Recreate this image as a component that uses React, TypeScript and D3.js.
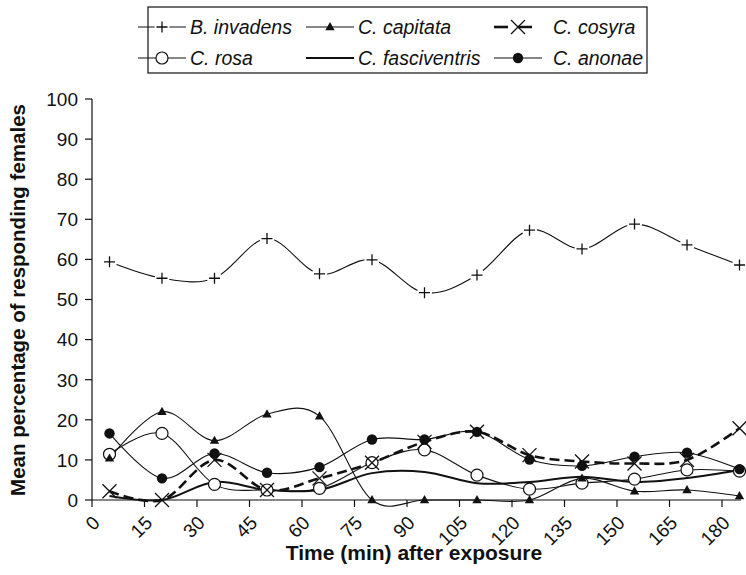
import { useEffect, useRef } from "react";
import * as d3 from "d3";

// sampling times (min after exposure)
const times = [5, 20, 35, 50, 65, 80, 95, 110, 125, 140, 155, 170, 185];
const xTicks = [0, 15, 30, 45, 60, 75, 90, 105, 120, 135, 150, 165, 180];
const yTicks = [0, 10, 20, 30, 40, 50, 60, 70, 80, 90, 100];

const invadens = [59.4, 55.3, 55.3, 65.2, 56.4, 59.9, 51.7, 56.1, 67.3, 62.6, 68.8, 63.6, 58.6];
const capitata = [10.4, 22.0, 14.8, 21.4, 20.9, 0, 0, 0, 0, 5.4, 2.2, 2.5, 1.0];
const cosyra = [2.2, 0, 10.0, 2.5, 5.4, 9.3, 14.5, 17.0, 11.2, 9.6, 9.1, 10.0, 17.9];
const rosa = [11.4, 16.6, 3.9, 2.5, 2.9, 9.3, 12.5, 6.2, 2.7, 4.2, 5.2, 7.5, 7.2];
const fasciventris = [1.0, 0, 4.5, 2.5, 2.5, 6.7, 7.0, 4.2, 4.5, 5.8, 4.5, 5.5, 7.5];
const anonae = [16.6, 5.4, 11.6, 6.8, 8.2, 15.1, 15.1, 17.0, 10.1, 8.5, 10.8, 11.8, 7.7];

const series = [
  { name: "B. invadens", values: invadens, marker: "plus", width: 1.1, dash: null },
  { name: "C. capitata", values: capitata, marker: "triangle", width: 1.1, dash: null },
  { name: "C. cosyra", values: cosyra, marker: "cross", width: 2.6, dash: "10,5" },
  { name: "C. rosa", values: rosa, marker: "circle", width: 1.1, dash: null },
  { name: "C. fasciventris", values: fasciventris, marker: "none", width: 2, dash: null },
  { name: "C. anonae", values: anonae, marker: "dot", width: 1.1, dash: null },
];

const FONT = "'Liberation Sans', Arial, Helvetica, sans-serif";

const drawMarker = (g, type, cx, cy, halo) => {
  if (type === "plus") {
    if (halo) g.append("circle").attr("cx", cx).attr("cy", cy).attr("r", 7.5).attr("fill", "#fff");
    g.append("path")
      .attr("d", `M${cx - 5.5},${cy}H${cx + 5.5}M${cx},${cy - 5.5}V${cy + 5.5}`)
      .attr("stroke", "#111").attr("stroke-width", 1.3).attr("fill", "none");
  } else if (type === "triangle") {
    g.append("path")
      .attr("d", d3.symbol(d3.symbolTriangle, 38)())
      .attr("transform", `translate(${cx},${cy + 0.5})`)
      .attr("fill", "#111");
  } else if (type === "cross") {
    g.append("path")
      .attr("d", `M${cx - 7},${cy - 7}L${cx + 7},${cy + 7}M${cx - 7},${cy + 7}L${cx + 7},${cy - 7}`)
      .attr("stroke", "#111").attr("stroke-width", 1.3).attr("fill", "none");
  } else if (type === "circle") {
    g.append("circle").attr("cx", cx).attr("cy", cy).attr("r", 6)
      .attr("fill", "#fff").attr("stroke", "#111").attr("stroke-width", 1.2);
  } else if (type === "dot") {
    g.append("circle").attr("cx", cx).attr("cy", cy).attr("r", 5.2).attr("fill", "#111");
  }
};

const App = () => {
  const ref = useRef(null);

  useEffect(() => {
    const svg = d3.select(ref.current);
    svg.selectAll("*").remove();

    const x = d3.scaleLinear().domain([0, 185]).range([92, 739.5]);
    const y = d3.scaleLinear().domain([0, 100]).range([500, 99]);

    // axes
    svg.append("line").attr("x1", 92).attr("x2", 92).attr("y1", y(100)).attr("y2", y(0))
      .attr("stroke", "#111").attr("stroke-width", 1.2);
    svg.append("line").attr("x1", 92).attr("x2", 741).attr("y1", y(0)).attr("y2", y(0))
      .attr("stroke", "#111").attr("stroke-width", 1.2);

    const yAx = svg.append("g");
    yTicks.forEach((t) => {
      yAx.append("line").attr("x1", 85).attr("x2", 92).attr("y1", y(t)).attr("y2", y(t))
        .attr("stroke", "#111").attr("stroke-width", 1.2);
      yAx.append("text").attr("x", 78).attr("y", y(t)).attr("dy", "0.36em")
        .attr("text-anchor", "end").style("font-family", FONT).style("font-size", "19px")
        .attr("fill", "#111").text(t);
    });

    const xAx = svg.append("g");
    xTicks.forEach((t) => {
      xAx.append("line").attr("x1", x(t)).attr("x2", x(t)).attr("y1", y(0)).attr("y2", y(0) + 7)
        .attr("stroke", "#111").attr("stroke-width", 1.2);
      xAx.append("text")
        .attr("transform", `translate(${x(t) + 9},${524}) rotate(-45)`)
        .attr("text-anchor", "end").style("font-family", FONT).style("font-size", "19px")
        .attr("fill", "#111").text(t);
    });

    // titles
    svg.append("text").attr("x", 414).attr("y", 560).attr("text-anchor", "middle")
      .style("font-family", FONT).style("font-size", "21px").style("font-weight", "bold")
      .attr("fill", "#111").text("Time (min) after exposure");
    svg.append("text").attr("transform", `translate(25,${300}) rotate(-90)`)
      .attr("text-anchor", "middle")
      .style("font-family", FONT).style("font-size", "20.5px").style("font-weight", "bold")
      .attr("fill", "#111").text("Mean percentage of responding females");

    // lines
    const line = d3.line()
      .x((d, i) => x(times[i]))
      .y((d) => y(d))
      .curve(d3.curveCardinal.tension(0));

    series.forEach((s) => {
      svg.append("path").datum(s.values).attr("d", line)
        .attr("fill", "none").attr("stroke", "#111")
        .attr("stroke-width", s.width)
        .attr("stroke-dasharray", s.dash);
    });

    // markers
    const order = ["B. invadens", "C. rosa", "C. capitata", "C. anonae", "C. cosyra"];
    order.forEach((n) => {
      const s = series.find((d) => d.name === n);
      const mg = svg.append("g");
      s.values.forEach((v, i) => drawMarker(mg, s.marker, x(times[i]), y(v), true));
    });

    // legend
    const lg = svg.append("g");
    lg.append("rect").attr("x", 148).attr("y", 7).attr("width", 499).attr("height", 66)
      .attr("fill", "#fff").attr("stroke", "#111").attr("stroke-width", 1.2);
    const cols = [
      { cx: 162, tx: 190 },
      { cx: 330, tx: 358 },
      { cx: 518, tx: 553 },
    ];
    const rows = [27, 58];
    series.forEach((s, i) => {
      const c = cols[i % 3];
      const ry = rows[Math.floor(i / 3)];
      lg.append("line").attr("x1", c.cx - 24).attr("x2", c.cx + 24).attr("y1", ry).attr("y2", ry)
        .attr("stroke", "#111").attr("stroke-width", s.width)
        .attr("stroke-dasharray", s.dash ? "14,10" : null);
      drawMarker(lg, s.marker, c.cx, ry, true);
      lg.append("text").attr("x", c.tx).attr("y", ry).attr("dy", "0.36em")
        .style("font-family", FONT).style("font-size", "19.5px").style("font-style", "italic")
        .attr("fill", "#111").text(s.name);
    });
  }, []);

  return (
    <div style={{ position: "absolute", left: 0, top: 0 }}>
      <svg ref={ref} width={746} height={575} style={{ display: "block", background: "#fff" }} />
    </div>
  );
};

export default App;
